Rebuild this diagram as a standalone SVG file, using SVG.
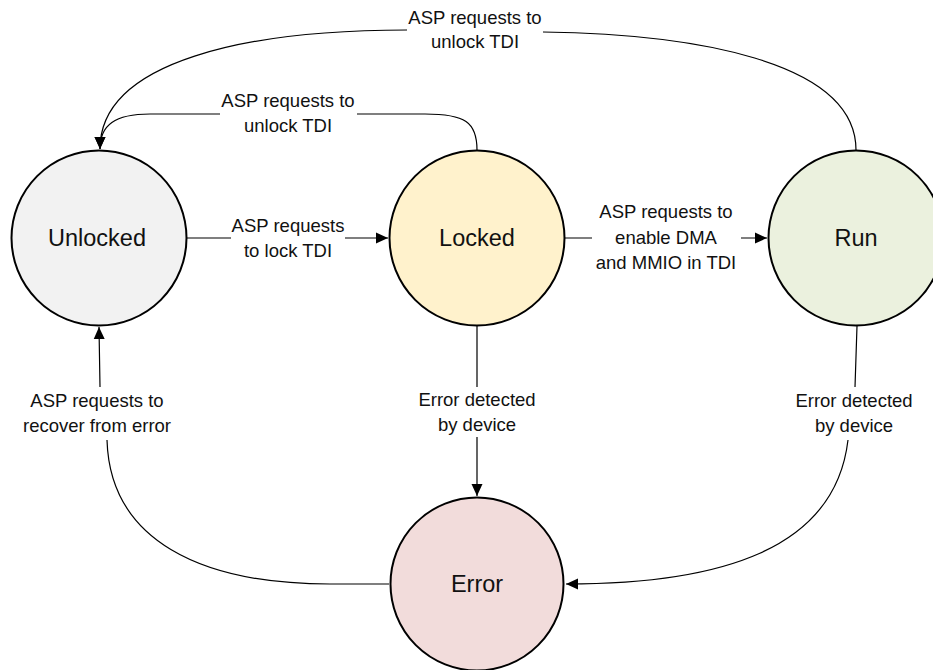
<svg xmlns="http://www.w3.org/2000/svg" width="933" height="670" viewBox="0 0 933 670">
<style>
.node{stroke:#000;stroke-width:2}
.nl{font-family:"Liberation Sans",Arial,sans-serif;font-size:23.5px;fill:#111;text-anchor:middle}
.el{font-family:"Liberation Sans",Arial,sans-serif;font-size:18.5px;fill:#111;text-anchor:middle}
.c{fill:none;stroke:#000;stroke-width:1.2}
</style>
<defs>
<marker id="arr" viewBox="0 0 12 12" refX="12" refY="6" markerWidth="12" markerHeight="12" markerUnits="userSpaceOnUse" orient="auto">
<path d="M0,0.5 L12,6 L0,11.5 Z" fill="#000"/>
</marker>
</defs>
<rect width="933" height="670" fill="#fff"/>
<g id="connectors">
<path class="c" d="M187,238 L231,238 M345,238 L388,238" marker-end="url(#arr)"/>
<path class="c" d="M565,238 L592,238 M741,238 L767,238" marker-end="url(#arr)"/>
<path class="c" d="M477,150 C477,122 465,114 425,114 L357,114 M220,114 L150,114 C115,114 100,125 100,149" marker-end="url(#arr)"/>
<path class="c" d="M856,150 C856,60 690,34 543,32 M407,30 C250,30 100,60 100,149" marker-end="url(#arr)"/>
<path class="c" d="M477,326 L477,387 M477,437 L477,496" marker-end="url(#arr)"/>
<path class="c" d="M857,326 L855,387 M848,440 C835,550 720,584 566,584" marker-end="url(#arr)"/>
<path class="c" d="M389,584 L330,584 C200,584 110,540 107,440 M100,387 L99,327" marker-end="url(#arr)"/>
</g>
<g id="edge-labels">
<text class="el" x="288" y="232">ASP requests</text>
<text class="el" x="288" y="257">to lock TDI</text>
<text class="el" x="666" y="218">ASP requests to</text>
<text class="el" x="666" y="243.5">enable DMA</text>
<text class="el" x="666" y="269">and MMIO in TDI</text>
<text class="el" x="288" y="107">ASP requests to</text>
<text class="el" x="288" y="132">unlock TDI</text>
<text class="el" x="475" y="24">ASP requests to</text>
<text class="el" x="475" y="48">unlock TDI</text>
<text class="el" x="477" y="406">Error detected</text>
<text class="el" x="477" y="431">by device</text>
<text class="el" x="854" y="407">Error detected</text>
<text class="el" x="854" y="432">by device</text>
<text class="el" x="97" y="407">ASP requests to</text>
<text class="el" x="97" y="432">recover from error</text>
</g>
<g id="unlocked">
<circle class="node" cx="99" cy="238" r="87.5" fill="#f2f2f2"/>
<text class="nl" x="97" y="246">Unlocked</text>
</g>
<g id="locked">
<circle class="node" cx="477" cy="238" r="87.5" fill="#fff2cc"/>
<text class="nl" x="477" y="246">Locked</text>
</g>
<g id="run">
<circle class="node" cx="856" cy="238" r="87.5" fill="#ebf1de"/>
<text class="nl" x="856" y="246">Run</text>
</g>
<g id="error">
<circle class="node" cx="477" cy="584" r="86.5" fill="#f2dcdb"/>
<text class="nl" x="477" y="592">Error</text>
</g>
</svg>
